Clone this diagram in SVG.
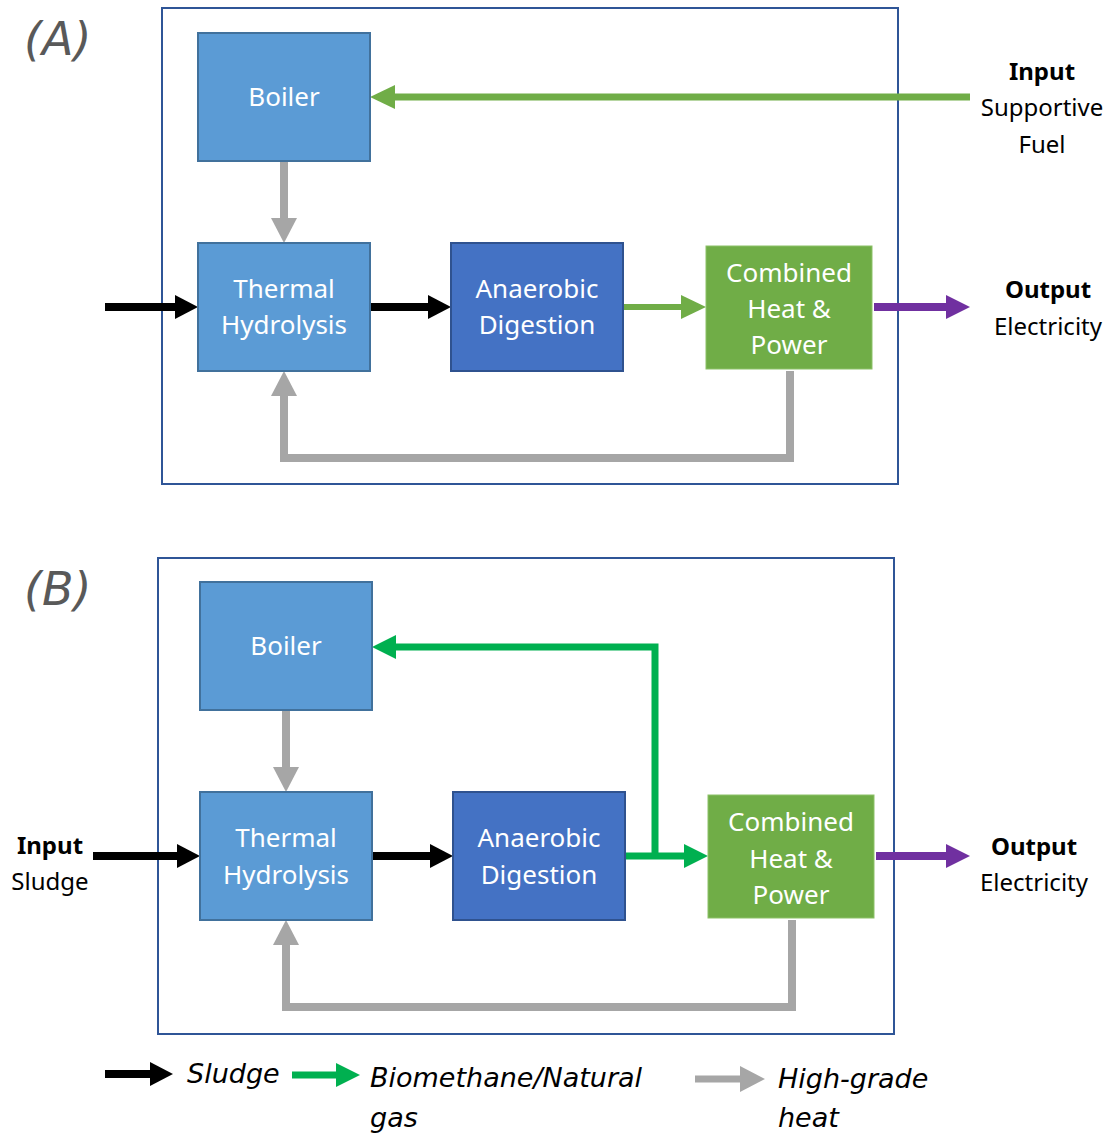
<svg xmlns="http://www.w3.org/2000/svg" width="1110" height="1135" viewBox="0 0 1110 1135">
<style>
.frame{fill:none;stroke:#2F5597;stroke-width:2}
.lb{fill:#5B9BD5;stroke:#41719C;stroke-width:2}
.db{fill:#4472C4;stroke:#2F528F;stroke-width:2}
.gr{fill:#70AD47;stroke:#8CC168;stroke-width:1}
.nt{font-family:"Noto Sans","Open Sans",sans-serif;font-size:26px;fill:#fff;text-anchor:middle}
.io{font-family:"Noto Sans","Open Sans",sans-serif;font-size:24px;fill:#000;text-anchor:middle}
.iob{font-weight:bold}
.pl{font-family:"DejaVu Sans","Noto Sans",sans-serif;font-size:46px;font-style:italic;fill:#595959}
.lg{font-family:"DejaVu Sans","Noto Sans",sans-serif;font-size:27px;font-style:italic;fill:#000}
.c{fill:none;stroke-linejoin:miter}
.k{stroke:#000;stroke-width:8}
.g{stroke:#A6A6A6;stroke-width:8}
.lgr{stroke:#70AD47;stroke-width:7}
.bg{stroke:#00B050;stroke-width:7}
.p{stroke:#7030A0;stroke-width:8}
</style>
<defs>
<marker id="mk" viewBox="0 0 23 24" refX="0" refY="12" markerWidth="23" markerHeight="24" markerUnits="userSpaceOnUse" orient="auto"><path d="M0,0 L23,12 L0,24 z" fill="#000"/></marker>
<marker id="mg" viewBox="0 0 25 26" refX="0" refY="13" markerWidth="25" markerHeight="26" markerUnits="userSpaceOnUse" orient="auto"><path d="M0,0 L25,13 L0,26 z" fill="#A6A6A6"/></marker>
<marker id="ml" viewBox="0 0 25 24" refX="0" refY="12" markerWidth="25" markerHeight="24" markerUnits="userSpaceOnUse" orient="auto"><path d="M0,0 L25,12 L0,24 z" fill="#70AD47"/></marker>
<marker id="mb" viewBox="0 0 24 24" refX="0" refY="12" markerWidth="24" markerHeight="24" markerUnits="userSpaceOnUse" orient="auto"><path d="M0,0 L24,12 L0,24 z" fill="#00B050"/></marker>
<marker id="mp" viewBox="0 0 24 24" refX="0" refY="12" markerWidth="24" markerHeight="24" markerUnits="userSpaceOnUse" orient="auto"><path d="M0,0 L24,12 L0,24 z" fill="#7030A0"/></marker>
</defs>

<g id="frameA"><rect class="frame" x="162" y="8" width="736" height="476"/></g>
<g id="frameB"><rect class="frame" x="158" y="558" width="736" height="476"/></g>
<text class="pl" x="24" y="55">(A)</text>
<text class="pl" x="24" y="605">(B)</text>

<g id="connectors">
<path class="c g" d="M284,161 V218" marker-end="url(#mg)"/>
<path class="c lgr" d="M970,97 H395" marker-end="url(#ml)"/>
<path class="c k" d="M105,307 H175" marker-end="url(#mk)"/>
<path class="c k" d="M370,307 H428" marker-end="url(#mk)"/>
<path class="c lgr" style="stroke-width:6" d="M623,307 H681" marker-end="url(#ml)"/>
<path class="c p" d="M874,307 H946" marker-end="url(#mp)"/>
<path class="c g" d="M790,371 V458 H284 V396" marker-end="url(#mg)"/>

<path class="c g" d="M286,710 V767" marker-end="url(#mg)"/>
<path class="c k" d="M93,856 H177" marker-end="url(#mk)"/>
<path class="c k" d="M372,856 H430" marker-end="url(#mk)"/>
<path class="c bg" d="M625,856 H684" marker-end="url(#mb)"/>
<path class="c bg" d="M655,856 V647 H396" marker-end="url(#mb)"/>
<path class="c p" d="M876,856 H946" marker-end="url(#mp)"/>
<path class="c g" d="M792,920 V1007 H286 V945" marker-end="url(#mg)"/>

<path class="c k" d="M105,1074 H150" marker-end="url(#mk)"/>
<path class="c bg" d="M292,1075 H336" marker-end="url(#mb)"/>
<path class="c g" style="stroke-width:7" d="M695,1079 H740" marker-end="url(#mg)"/>
</g>

<g id="boilerA"><rect class="lb" x="198" y="33" width="172" height="128"/><text class="nt" x="284" y="106">Boiler</text></g>
<g id="thA"><rect class="lb" x="198" y="243" width="172" height="128"/><text class="nt" x="284" y="298">Thermal</text><text class="nt" x="284" y="334">Hydrolysis</text></g>
<g id="adA"><rect class="db" x="451" y="243" width="172" height="128"/><text class="nt" x="537" y="298">Anaerobic</text><text class="nt" x="537" y="334">Digestion</text></g>
<g id="chpA"><rect class="gr" x="706" y="246" width="166" height="123"/><text class="nt" x="789" y="282">Combined</text><text class="nt" x="789" y="318">Heat &amp;</text><text class="nt" x="789" y="354">Power</text></g>

<g id="boilerB"><rect class="lb" x="200" y="582" width="172" height="128"/><text class="nt" x="286" y="655">Boiler</text></g>
<g id="thB"><rect class="lb" x="200" y="792" width="172" height="128"/><text class="nt" x="286" y="847">Thermal</text><text class="nt" x="286" y="884">Hydrolysis</text></g>
<g id="adB"><rect class="db" x="453" y="792" width="172" height="128"/><text class="nt" x="539" y="847">Anaerobic</text><text class="nt" x="539" y="884">Digestion</text></g>
<g id="chpB"><rect class="gr" x="708" y="795" width="166" height="123"/><text class="nt" x="791" y="831">Combined</text><text class="nt" x="791" y="868">Heat &amp;</text><text class="nt" x="791" y="904">Power</text></g>

<g id="inputA"><text class="io iob" x="1042" y="80">Input</text><text class="io" x="1042" y="116">Supportive</text><text class="io" x="1042" y="153">Fuel</text></g>
<g id="outputA"><text class="io iob" x="1048" y="298">Output</text><text class="io" x="1048" y="335">Electricity</text></g>
<g id="inputB"><text class="io iob" x="50" y="854">Input</text><text class="io" x="50" y="890">Sludge</text></g>
<g id="outputB"><text class="io iob" x="1034" y="855">Output</text><text class="io" x="1034" y="891">Electricity</text></g>

<g id="legend">
<text class="lg" x="187" y="1083">Sludge</text>
<text class="lg" x="370" y="1087">Biomethane/Natural</text>
<text class="lg" x="370" y="1127">gas</text>
<text class="lg" x="778" y="1088">High-grade</text>
<text class="lg" x="778" y="1127">heat</text>
</g>
</svg>
